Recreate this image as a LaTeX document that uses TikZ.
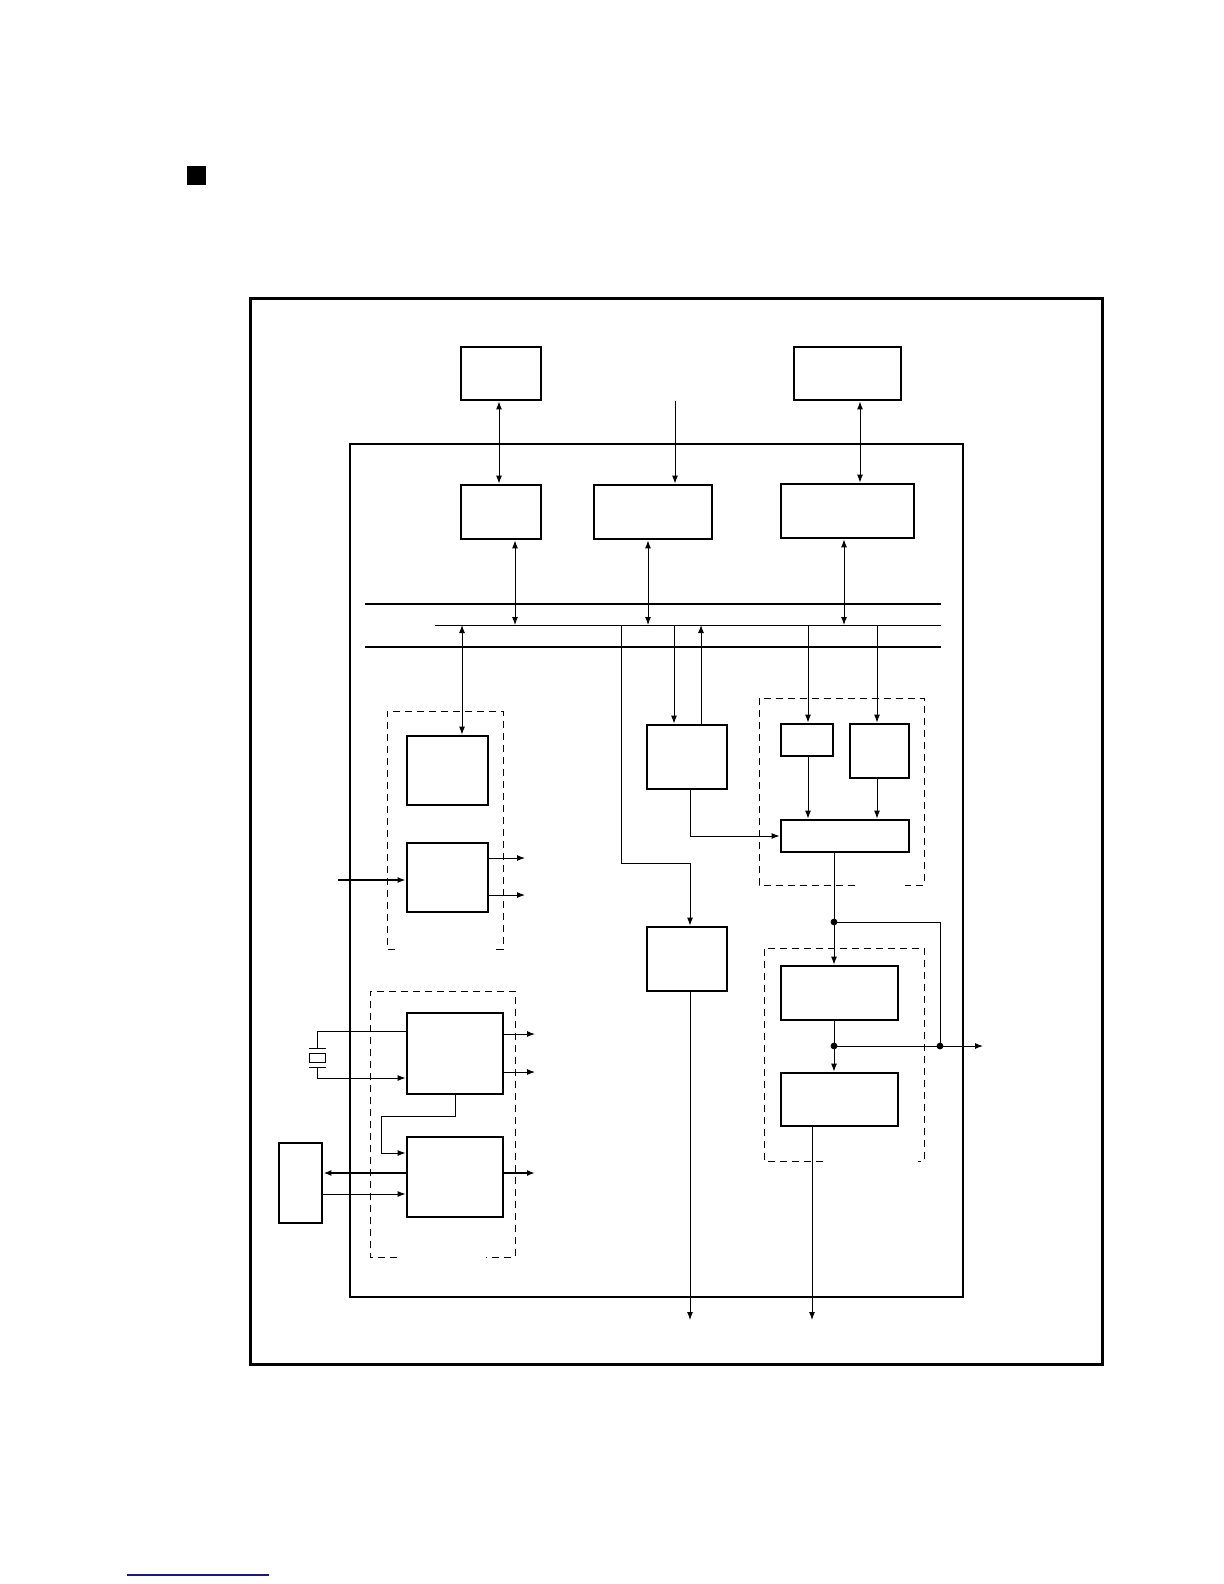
\documentclass[tikz,border=0pt]{standalone}
\usepackage{tikz}
\usetikzlibrary{arrows.meta, calc}
\definecolor{linkblue}{RGB}{24,24,128}

\begin{document}
\begin{tikzpicture}[
    x=0.5pt, y=-0.5pt,
    blk/.style={rectangle, draw, line width=1.4pt, inner sep=0pt},
    arrow/.style={-{Latex[length=4pt,width=3pt]}, line width=0.5pt},
    biarrow/.style={{Latex[length=4pt,width=3pt]}-{Latex[length=4pt,width=3pt]}, line width=0.5pt},
    wire/.style={line width=0.5pt},
    bus/.style={line width=1.2pt},
    group/.style={line width=0.5pt, dash pattern=on 3.5pt off 2.5pt},
    junction/.style={circle, fill, inner sep=0pt, minimum size=3.4pt}
]
\useasboundingbox (0,0) rectangle (1224,1584);

% Frames
\fill (187,166) rectangle (206,185);
\draw [line width=1.5pt] (250,298) rectangle (1102,1364);
\draw [line width=1.1pt] (350,444) rectangle (963,1297);
\draw [linkblue, line width=0.6pt] (127,1575) -- (269,1575);

% Bus
\draw [bus] (365,604) -- (941,604);
\draw [wire] (435,625) -- (941,625);
\draw [bus] (365,647) -- (941,647);
\coordinate (bus) at (0,625);

% Dashed groups
\draw [group] (855,885) -- (759,885) -- (759,698) -- (924,698) -- (924,885) -- (905,885);
\draw [group] (823,1161) -- (764,1161) -- (764,948) -- (924,948) -- (924,1161) -- (918,1161);
\draw [group] (395,949) -- (387,949) -- (387,711) -- (503,711) -- (503,949) -- (495,949);
\draw [group] (397,1257) -- (370,1257) -- (370,991) -- (515,991) -- (515,1257) -- (486,1257);

% Nodes
\node [blk, minimum width=40pt, minimum height=26.5pt] (ext1) at (501,373.5) {};
\node [blk, minimum width=53.5pt, minimum height=26.5pt] (ext2) at (847.5,373.5) {};
\node [blk, minimum width=40pt, minimum height=27pt] (ifa) at (501,512) {};
\node [blk, minimum width=59pt, minimum height=27pt] (ifb) at (653,512) {};
\node [blk, minimum width=66.5pt, minimum height=27pt] (ifc) at (847.5,511) {};
\node [blk, minimum width=40pt, minimum height=32pt] (ctl) at (687,757) {};
\node [blk, minimum width=40pt, minimum height=32pt] (drv) at (687,959) {};
\node [blk, minimum width=26pt, minimum height=16pt] (rega) at (807,740) {};
\node [blk, minimum width=29.5pt, minimum height=27pt] (regb) at (879.5,751) {};
\node [blk, minimum width=64pt, minimum height=16pt] (mux) at (845,836) {};
\node [blk, minimum width=58.5pt, minimum height=27pt] (stga) at (839.5,993) {};
\node [blk, minimum width=58.5pt, minimum height=26.5pt] (stgb) at (839.5,1099.5) {};
\node [blk, minimum width=40.5pt, minimum height=34.5pt] (mem) at (447.5,770.5) {};
\node [blk, minimum width=40.5pt, minimum height=34.5pt] (tmr) at (447.5,877.5) {};
\node [blk, minimum width=48pt, minimum height=40.5pt] (osc) at (455,1053.5) {};
\node [blk, minimum width=48pt, minimum height=40pt] (pll) at (455,1177) {};
\node [blk, minimum width=21.5pt, minimum height=40pt] (dev) at (300.5,1183) {};

% Free ends
\coordinate (cin) at (675,401);
\coordinate (tap) at (621,625);
\coordinate (outa) at (690,1320);
\coordinate (outb) at (812,1320);
\coordinate (outc) at (983,1046);
\coordinate (ja) at (834,922);
\coordinate (jb) at (834,1046);
\coordinate (jc) at (940,1046);
\coordinate (tin) at (338,880);
\coordinate (ta) at (525,858);
\coordinate (tb) at (525,895);
\coordinate (oa) at (535,1034);
\coordinate (ob) at (535,1072);
\coordinate (qa) at (535,1173);
\coordinate (xt) at (317,1031);
\coordinate (xb) at (317,1078);
\coordinate (pq) at (381,1153);
\coordinate (qr) at (0,1173);
\coordinate (rq) at (0,1194);

% Arrows, top
\draw [biarrow] ([xshift=-1pt]ext1.south) -- ([xshift=-1pt]ext1.south |- ifa.north);
\draw [arrow] (cin) -- (cin |- ifb.north);
\draw [biarrow] ([xshift=6.25pt]ext2.south) -- ([xshift=6.25pt]ext2.south |- ifc.north);
\draw [biarrow] ([xshift=7pt]ifa.south) -- ([xshift=7pt]ifa.south |- bus);
\draw [biarrow] ([xshift=-2.5pt]ifb.south) -- ([xshift=-2.5pt]ifb.south |- bus);
\draw [biarrow] ([xshift=-1.75pt]ifc.south) -- ([xshift=-1.75pt]ifc.south |- bus);
\draw [biarrow] ([xshift=7.25pt]mem.north |- bus) -- ([xshift=7.25pt]mem.north);

% Arrows, middle
\draw [arrow] (tap) -- ++(0,238) -| ([xshift=1.5pt]drv.north);
\draw [arrow] ([xshift=-6.5pt]ctl.north |- bus) -- ([xshift=-6.5pt]ctl.north);
\draw [arrow] ([xshift=7pt]ctl.north) -- ([xshift=7pt]ctl.north |- bus);
\draw [arrow] ([xshift=1.5pt]ctl.south) |- (mux.west);
\draw [arrow] ([xshift=1.5pt]drv.south) -- (outa);

% Arrows, right
\draw [arrow] ([xshift=0.5pt]rega.north |- bus) -- ([xshift=0.5pt]rega.north);
\draw [arrow] ([xshift=-1.25pt]regb.north |- bus) -- ([xshift=-1.25pt]regb.north);
\draw [arrow] ([xshift=0.5pt]rega.south) -- ([xshift=0.5pt]rega.south |- mux.north);
\draw [arrow] ([xshift=-1.25pt]regb.south) -- ([xshift=-1.25pt]regb.south |- mux.north);
\draw [wire] (ja |- mux.south) -- (ja);
\draw [arrow] (ja) -- (ja |- stga.north);
\draw [wire] (ja) -| (jc);
\draw [wire] (jb |- stga.south) -- (jb);
\draw [arrow] (jb) -- (jb |- stgb.north);
\draw [arrow] (jb) -- (outc);
\draw [arrow] (outb |- stgb.south) -- (outb);
\node [junction] at (ja) {};
\node [junction] at (jb) {};
\node [junction] at (jc) {};

% Arrows, left
\draw [arrow, line width=1pt] (tin) -- (tin -| tmr.west);
\draw [arrow] (ta -| tmr.east) -- (ta);
\draw [arrow] (tb -| tmr.east) -- (tb);
\draw [arrow] (oa -| osc.east) -- (oa);
\draw [arrow] (ob -| osc.east) -- (ob);
\draw [arrow, line width=1pt] (qa -| pll.east) -- (qa);
\draw [arrow] (osc.south) -- ++(0,21) -| (pq) -- (pq -| pll.west);
\draw [arrow, line width=1pt] (pll.west |- qr) -- (dev.east |- qr);
\draw [arrow] (dev.east |- rq) -- (pll.west |- rq);

% Crystal
\draw [wire] (osc.west |- xt) -| (317,1048);
\draw [wire] (309,1048) -- (326,1048);
\draw [wire] (309,1053) rectangle (325,1062);
\draw [wire] (309,1067) -- (326,1067);
\draw [arrow] (317,1067) |- (xb -| osc.west);

\end{tikzpicture}
\end{document}
